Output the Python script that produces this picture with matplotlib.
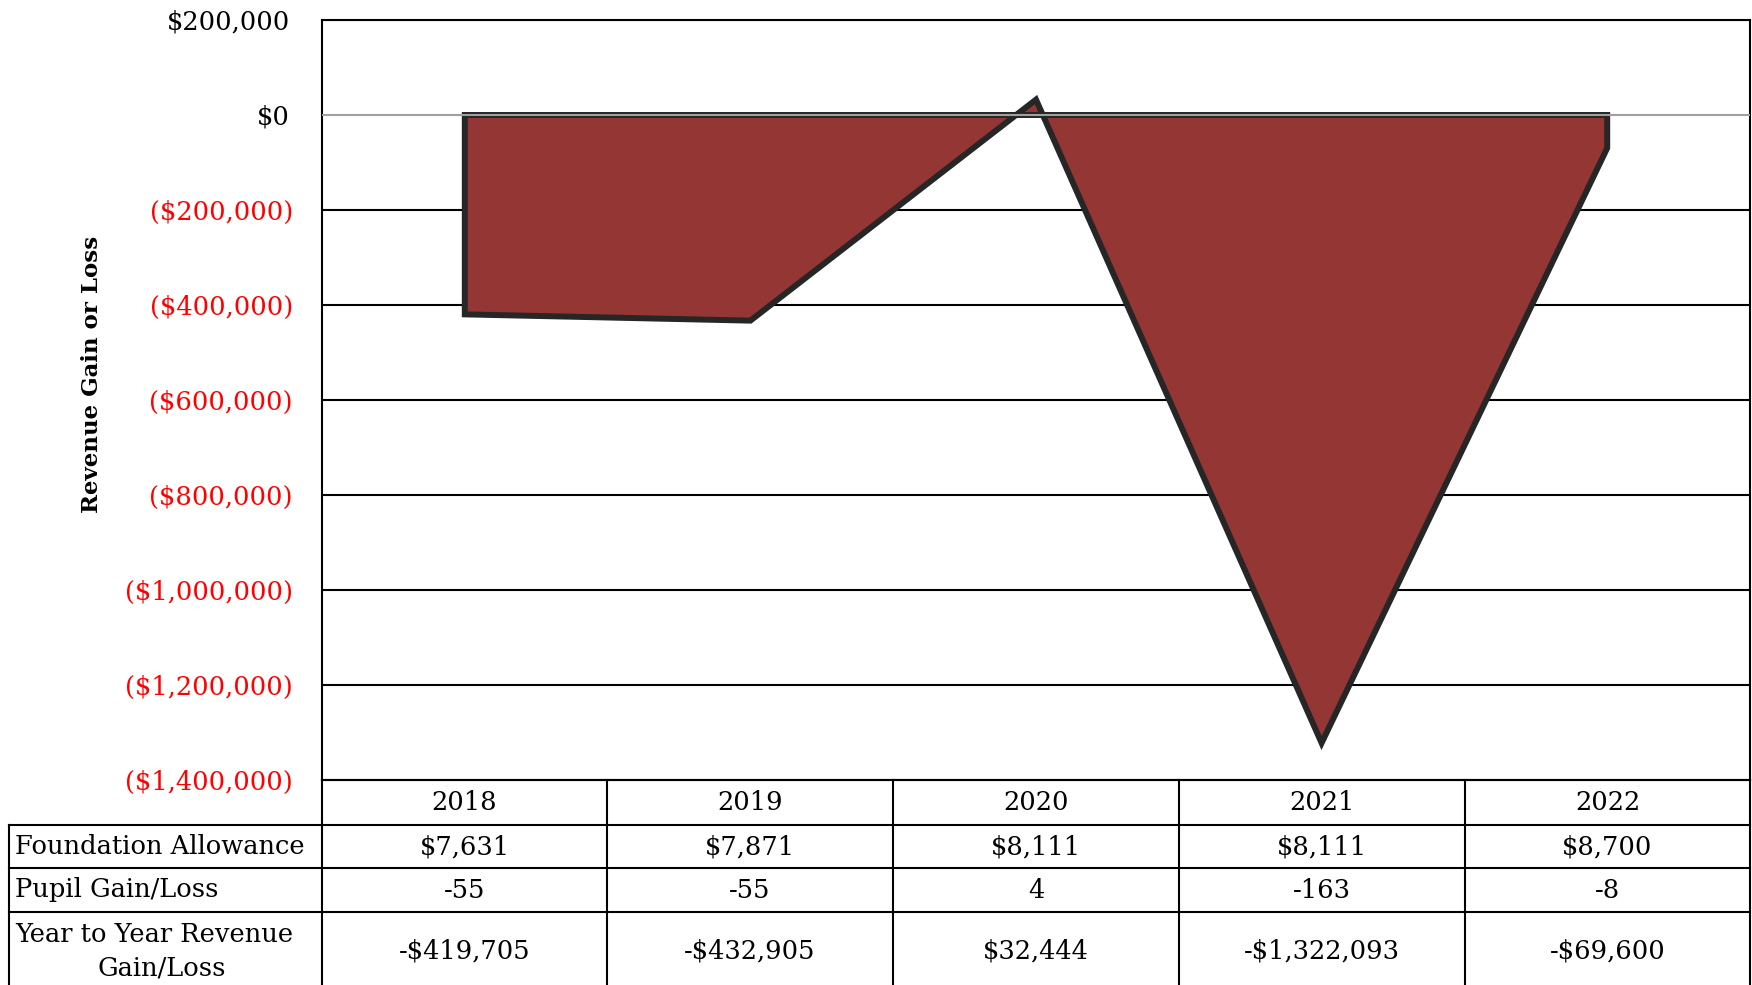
import matplotlib.pyplot as plt
import matplotlib.lines as mlines
from matplotlib.transforms import ScaledTranslation

# chart data
years = ['2018', '2019', '2020', '2021', '2022']
foundation_allowance = ['$7,631', '$7,871', '$8,111', '$8,111', '$8,700']
pupil_gain_loss = [-55, -55, 4, -163, -8]
revenue_change = [-419705, -432905, 32444, -1322093, -69600]
row_labels = ['Foundation Allowance', 'Pupil Gain/Loss', 'Year to Year Revenue\nGain/Loss']
y_ticks = list(range(-1400000, 200001, 200000))

W, H = 1752, 985
FONT = 'DejaVu Serif'
plt.rcParams['font.family'] = FONT

fig = plt.figure(figsize=(W / 100, H / 100), dpi=100)


def fx(px):
    return px / W


def fy(py):
    return 1 - py / H


# plot area in pixel coords
left, right, top, bottom = 322, 1750, 20, 780
ax = fig.add_axes([fx(left), fy(bottom), fx(right - left), fy(top) - fy(bottom)])

n = len(years)
xs = [0] + list(range(n)) + [n - 1]
ys = [0] + revenue_change + [0]
ax.fill(xs, ys, facecolor='#943634', edgecolor='#262626', linewidth=4.3,
        joinstyle='miter', zorder=3)

for t in y_ticks:
    if t == 0:
        ax.axhline(t, color='#a0a0a0', lw=1.5, zorder=4)
    elif t != y_ticks[0]:
        ax.axhline(t, color='black', lw=1.5, zorder=1)

ax.set_xlim(-0.5, n - 0.5)
ax.set_ylim(-1400000, 200000)
ax.set_xticks([])
ax.set_yticks(y_ticks)


def money(v):
    return '(${:,})'.format(-v) if v < 0 else '${:,}'.format(v)


ax.set_yticklabels([money(v) for v in y_ticks], fontsize=18.5)
ax.tick_params(axis='y', length=0, pad=21)
for lab, v in zip(ax.get_yticklabels(), y_ticks):
    if v < 0:
        lab.set_color('red')
    else:
        # leave room for the closing parenthesis like the spreadsheet format
        lab.set_transform(lab.get_transform() + ScaledTranslation(-3 / 100, 0, fig.dpi_scale_trans))
for s in ax.spines.values():
    s.set_color('black')
    s.set_linewidth(1.5)

fig.text(fx(92), fy(374), 'Revenue Gain or Loss', rotation=90, ha='center',
         va='center', fontsize=16.5, fontweight='bold')

# data table below the chart
col_edges = [322, 607, 893, 1179, 1465, 1750]
row_edges = [780, 825, 868, 912, 990]
label_left = 9


def hline(x0, x1, y):
    fig.add_artist(mlines.Line2D([fx(x0), fx(x1)], [fy(y), fy(y)], color='black', lw=1.5))


def vline(x, y0, y1):
    fig.add_artist(mlines.Line2D([fx(x), fx(x)], [fy(y0), fy(y1)], color='black', lw=1.5))


hline(col_edges[0], col_edges[-1], row_edges[0])
for y in row_edges[1:]:
    hline(label_left, col_edges[-1], y)
for x in col_edges:
    vline(x, row_edges[0], row_edges[-1])
vline(label_left, row_edges[1], row_edges[-1])

TS = 18.5
rows = [years, foundation_allowance,
        [str(p) for p in pupil_gain_loss],
        ['-${:,}'.format(-v) if v < 0 else '${:,}'.format(v) for v in revenue_change]]
for r, vals in enumerate(rows):
    yc = (row_edges[r] + row_edges[r + 1]) / 2
    if r == 3:
        yc = 951
    for c, v in enumerate(vals):
        xc = (col_edges[c] + col_edges[c + 1]) / 2
        fig.text(fx(xc), fy(yc), v, ha='center', va='center', fontsize=TS)

for r, lab in enumerate(row_labels):
    yc = (row_edges[r + 1] + row_edges[r + 2]) / 2
    if r == 2:
        first, second = lab.split('\n')
        fig.text(fx(label_left + 6), fy(934), first, ha='left', va='center', fontsize=TS)
        fig.text(fx((label_left + col_edges[0]) / 2 - 4), fy(968), second,
                 ha='center', va='center', fontsize=TS)
    else:
        fig.text(fx(label_left + 6), fy(yc), lab, ha='left', va='center', fontsize=TS)

fig.savefig('out.png', dpi=100)
